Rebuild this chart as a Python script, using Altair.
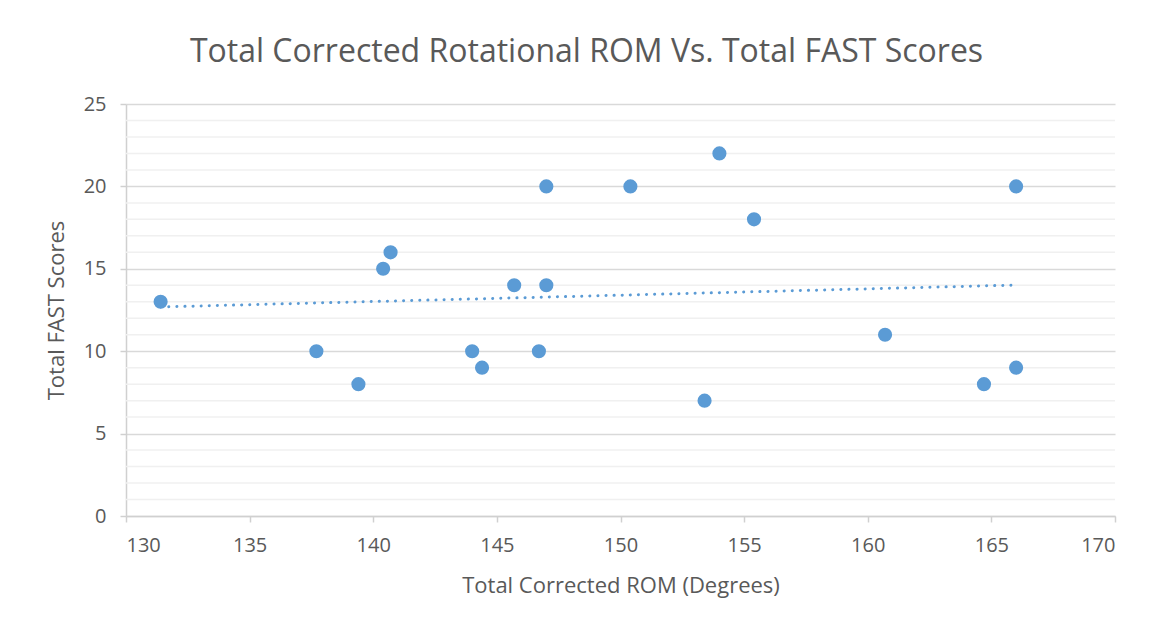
import altair as alt
import pandas as pd

rom = [131.4, 137.7, 139.4, 140.4, 140.7, 144.0, 144.4, 145.7, 146.7, 147.0,
       147.0, 150.4, 153.4, 154.0, 155.4, 160.7, 164.7, 166.0, 166.0]
fast = [13, 10, 8, 15, 16, 10, 9, 14, 10, 20,
        14, 20, 7, 22, 18, 11, 8, 20, 9]
x_ticks = [130, 135, 140, 145, 150, 155, 160, 165, 170]
y_ticks = [0, 5, 10, 15, 20, 25]
y_minor = [v for v in range(0, 26) if v % 5 != 0]

df = pd.DataFrame({"rom": rom, "fast": fast})
minor_df = pd.DataFrame({"fast": y_minor})

TXT = "#595959"
FONT = "Open Sans"

xs = alt.X("rom:Q", scale=alt.Scale(domain=[130, 170], nice=False),
           axis=alt.Axis(title="Total Corrected ROM (Degrees)", values=x_ticks,
                         grid=False, tickSize=6, labelPadding=13, titlePadding=20,
                         domainColor="#d0d0d0", tickColor="#d0d0d0", domainWidth=1.5, tickWidth=1.5))
ys = alt.Y("fast:Q", scale=alt.Scale(domain=[0, 25], nice=False),
           axis=alt.Axis(title="Total FAST Scores", values=y_ticks,
                         gridColor="#d9d9d9", gridWidth=1.5,
                         tickSize=6, labelPadding=14, titlePadding=15,
                         domainColor="#d0d0d0", tickColor="#d0d0d0", domainWidth=1.5, tickWidth=1.5))

minor = alt.Chart(minor_df).mark_rule(color="#f0f0f0", strokeWidth=1.5).encode(
    y=alt.Y("fast:Q", scale=alt.Scale(domain=[0, 25], nice=False))
)

points = alt.Chart(df).mark_circle(size=200, opacity=1, color="#5b9bd5").encode(x=xs, y=ys)

trend = alt.Chart(df).transform_regression("rom", "fast").mark_line(
    color="#5b9bd5", strokeDash=[0.1, 8], strokeCap="round", strokeWidth=3
).encode(x="rom:Q", y="fast:Q")

chart = alt.layer(minor, trend, points).properties(
    width=989, height=412,
    autosize=alt.AutoSizeParams(type="none"),
    padding={"left": 118, "top": 96, "right": 31, "bottom": 100},
    title=alt.TitleParams("Total Corrected Rotational ROM Vs. Total FAST Scores",
                          anchor="middle", dx=-34, offset=25, fontSize=32,
                          font=FONT, fontWeight="normal", color=TXT),
).configure_axis(
    labelFont=FONT, titleFont=FONT, labelFontSize=20, titleFontSize=22,
    labelColor=TXT, titleColor=TXT, titleFontWeight="normal",
).configure_view(stroke=None)

chart.save("out.html", embed_options={"renderer": "svg", "actions": False})
